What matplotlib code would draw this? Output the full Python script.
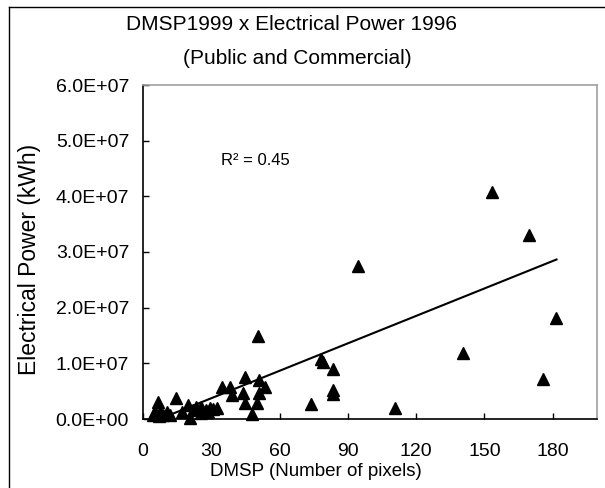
import matplotlib
matplotlib.use("Agg")
import matplotlib.pyplot as plt
import numpy as np
from matplotlib.lines import Line2D
from matplotlib.ticker import FuncFormatter, MultipleLocator

plt.rcParams['font.family'] = ['Liberation Sans', 'DejaVu Sans']

# Data (DMSP pixels, electrical power kWh)
dmsp_pixels = [4.4, 5.3, 6.7, 7.5, 7.0, 8.8, 10.4, 11.9, 14.3, 17.0, 19.9, 20.6,
               22.0, 23.5, 25.7, 25.7, 27.5, 28.5, 29.4, 30.8, 32.3, 34.5, 38.2,
               38.9, 43.9, 44.8, 44.8, 47.8, 50.0, 50.5, 51.0, 51.0, 53.5, 73.7,
               78.3, 79.0, 83.4, 83.4, 83.4, 94.4, 110.6, 140.5, 153.2, 169.4,
               175.6, 181.7]
power_kwh = [0.07e7, 0.13e7, 0.31e7, 0.13e7, 0.05e7, 0.07e7, 0.13e7, 0.07e7,
             0.37e7, 0.13e7, 0.25e7, 0.02e7, 0.16e7, 0.22e7, 0.22e7, 0.11e7,
             0.16e7, 0.13e7, 0.20e7, 0.18e7, 0.20e7, 0.58e7, 0.58e7, 0.43e7,
             0.47e7, 0.75e7, 0.29e7, 0.09e7, 0.29e7, 1.49e7, 0.70e7, 0.47e7,
             0.58e7, 0.27e7, 1.07e7, 1.02e7, 0.90e7, 0.52e7, 0.45e7, 2.75e7,
             0.20e7, 1.18e7, 4.07e7, 3.30e7, 0.72e7, 1.81e7]

trend_slope = 1.643e5
trend_intercept = -1.2e6
r2_text = "R² = 0.45"

title_line1 = "DMSP1999 x Electrical Power 1996"
title_line2 = "(Public and Commercial)"
x_label = "DMSP (Number of pixels)"
y_label = "Electrical Power (kWh)"

W, H = 605, 488
fig = plt.figure(figsize=(W / 100, H / 100), dpi=100)
ax = fig.add_axes([143 / W, 1 - 419 / H, (597 - 143) / W, (419 - 85) / H])

ax.plot(dmsp_pixels, power_kwh, linestyle='none', marker='^', color='black',
        markersize=8, clip_on=False, zorder=3)

xs = np.array([min(dmsp_pixels), max(dmsp_pixels)])
ys = trend_slope * xs + trend_intercept
ax.plot(xs, ys, color='black', linewidth=1.5, zorder=2)

ax.set_xlim(0, 199.5)
ax.set_ylim(0, 6.0e7)
ax.set_xticks([0, 30, 60, 90, 120, 150, 180])
ax.yaxis.set_major_locator(MultipleLocator(1.0e7))
ax.yaxis.set_major_formatter(FuncFormatter(lambda v, p: f"{v:.1E}"))

ax.tick_params(axis='both', direction='in', length=4, width=1, color='black',
               labelsize=14)
ax.tick_params(axis='x', pad=17)
ax.tick_params(axis='y', pad=10)

for s in ['left', 'bottom']:
    ax.spines[s].set_color('black')
    ax.spines[s].set_linewidth(1.2)
for s in ['top', 'right']:
    ax.spines[s].set_color('#a0a0a0')
    ax.spines[s].set_linewidth(1.2)

ax.text(34.2, 4.65e7, r2_text, fontsize=12, va='center', ha='left')

fig.text(292 / W, 1 - 25 / H, title_line1, fontsize=15, ha='center', va='center')
fig.text(297 / W, 1 - 58 / H, title_line2, fontsize=15, ha='center', va='center')
fig.text(316 / W, 1 - 471 / H, x_label, fontsize=13.5, ha='center', va='center')
fig.text(30 / W, 1 - 259 / H, y_label, fontsize=16.5, ha='center', va='center',
         rotation=90)

# figure border (top and left visible)
fig.add_artist(Line2D([9 / W, 9 / W], [0, 1 - 7 / H], transform=fig.transFigure,
                      color='black', linewidth=1))
fig.add_artist(Line2D([9 / W, 1], [1 - 7 / H, 1 - 7 / H], transform=fig.transFigure,
                      color='black', linewidth=1))

fig.savefig("out.png", dpi=100)
